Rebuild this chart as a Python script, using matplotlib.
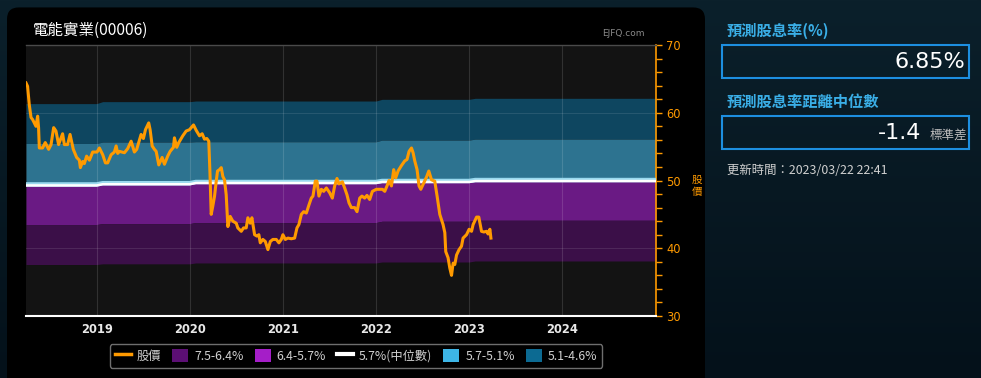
import matplotlib
matplotlib.use("Agg")
import matplotlib.pyplot as plt
import numpy as np
from matplotlib.lines import Line2D
from matplotlib.patches import Patch, FancyBboxPatch, Rectangle
from matplotlib import transforms
from matplotlib.colors import LinearSegmentedColormap

plt.rcParams['font.family'] = ['Noto Sans CJK TC', 'DejaVu Sans']

# ---------------- data ----------------
title = "電能實業(00006)"
year_ticks = [2019, 2020, 2021, 2022, 2023, 2024]
year_labels = ["2019", "2020", "2021", "2022", "2023", "2024"]
x_range = [2018.241, 2025.007]
y_ticks = [30, 40, 50, 60, 70]

# price (decimal year, HKD)
price_t = [2018.241, 2018.258, 2018.276, 2018.295, 2018.312, 2018.330, 2018.348, 2018.366, 2018.376, 2018.384,
           2018.419, 2018.448, 2018.484, 2018.510, 2018.538, 2018.563, 2018.591, 2018.634, 2018.653, 2018.688,
           2018.714, 2018.749, 2018.785, 2018.814, 2018.825, 2018.849, 2018.868, 2018.892, 2018.922, 2018.957,
           2019.004, 2019.029, 2019.065, 2019.094, 2019.118, 2019.155, 2019.190, 2019.209, 2019.226, 2019.244,
           2019.298, 2019.333, 2019.370, 2019.405, 2019.430, 2019.477, 2019.502, 2019.524, 2019.559, 2019.574,
           2019.596, 2019.620, 2019.639, 2019.667, 2019.703, 2019.728, 2019.763, 2019.789, 2019.825, 2019.835,
           2019.860, 2019.882, 2019.925, 2019.961, 2019.997, 2020.040, 2020.069, 2020.104, 2020.133, 2020.158,
           2020.183, 2020.204, 2020.217, 2020.230, 2020.247, 2020.266, 2020.284, 2020.298, 2020.319, 2020.338,
           2020.355, 2020.373, 2020.391, 2020.409, 2020.434, 2020.462, 2020.499, 2020.516, 2020.553, 2020.577,
           2020.606, 2020.624, 2020.649, 2020.667, 2020.696, 2020.720, 2020.742, 2020.757, 2020.785, 2020.811,
           2020.839, 2020.865, 2020.892, 2020.929, 2020.957, 2020.983, 2021.000, 2021.026, 2021.054, 2021.090,
           2021.126, 2021.151, 2021.172, 2021.198, 2021.223, 2021.252, 2021.280, 2021.305, 2021.323, 2021.348,
           2021.366, 2021.387, 2021.413, 2021.438, 2021.467, 2021.502, 2021.531, 2021.556, 2021.581, 2021.602,
           2021.639, 2021.663, 2021.688, 2021.710, 2021.735, 2021.771, 2021.796, 2021.825, 2021.849, 2021.878,
           2021.903, 2021.932, 2021.961, 2022.004, 2022.069, 2022.094, 2022.118, 2022.140, 2022.166, 2022.190,
           2022.212, 2022.237, 2022.273, 2022.309, 2022.333, 2022.355, 2022.381, 2022.398, 2022.416, 2022.441,
           2022.462, 2022.481, 2022.505, 2022.542, 2022.567, 2022.596, 2022.631, 2022.656, 2022.685, 2022.720,
           2022.739, 2022.749, 2022.774, 2022.792, 2022.811, 2022.828, 2022.846, 2022.865, 2022.892, 2022.918,
           2022.935, 2022.972, 2023.000, 2023.026, 2023.043, 2023.080, 2023.104, 2023.133, 2023.158, 2023.187,
           2023.204, 2023.223, 2023.234]
price_v = [64.4, 63.9, 61.2, 59.3, 59.0, 58.5, 58.0, 59.5, 57.8, 54.8,
           54.8, 55.6, 54.6, 55.3, 57.8, 57.3, 55.3, 56.9, 55.3, 55.3,
           56.8, 54.6, 53.4, 53.0, 51.9, 52.8, 52.5, 53.6, 53.0, 54.2,
           54.2, 54.8, 53.8, 52.6, 52.6, 53.8, 54.2, 55.1, 54.0, 54.3,
           54.1, 54.7, 55.8, 54.2, 54.6, 56.8, 56.2, 57.5, 58.5, 57.5,
           55.1, 54.6, 54.3, 52.3, 53.4, 52.4, 53.6, 54.3, 54.9, 56.3,
           54.9, 55.6, 56.6, 57.3, 57.5, 58.2, 57.4, 56.6, 56.9, 56.1,
           56.2, 55.8, 51.0, 45.0, 46.2, 47.7, 49.9, 51.4, 51.6, 51.9,
           50.6, 50.1, 47.9, 43.2, 44.7, 44.0, 43.7, 43.0, 42.5, 43.0,
           43.0, 44.5, 43.7, 44.5, 42.0, 41.8, 42.0, 40.8, 41.3, 41.0,
           39.8, 41.0, 41.3, 41.3, 40.8, 41.3, 42.0, 41.3, 41.5, 41.4,
           41.5, 43.0, 43.5, 45.0, 45.4, 45.2, 46.4, 47.4, 47.7, 49.9,
           49.9, 47.7, 48.7, 48.4, 48.9, 48.2, 47.4, 49.2, 50.3, 49.5,
           49.8, 48.9, 47.9, 46.7, 46.0, 46.0, 45.4, 47.4, 47.7, 47.4,
           47.8, 47.2, 48.4, 48.7, 48.7, 48.4, 49.2, 50.0, 49.2, 51.6,
           50.4, 51.4, 52.2, 52.9, 53.1, 54.3, 54.8, 54.1, 52.9, 51.6,
           49.2, 48.7, 49.4, 50.5, 51.4, 50.1, 49.9, 47.7, 45.0, 43.5,
           42.3, 39.5, 38.6, 37.1, 36.0, 37.8, 37.6, 39.0, 39.8, 40.3,
           41.5, 42.0, 42.8, 42.5, 43.5, 44.6, 44.6, 42.5, 42.4, 42.5,
           42.1, 42.8, 41.5]

# yield bands: price level of each band boundary, per dividend period
seg_start = [2018.241, 2019.0, 2020.0, 2022.0, 2023.0]
lvl_46 = [61.35, 61.64, 61.73, 61.98, 62.13]
lvl_51 = [55.47, 55.67, 55.72, 55.96, 56.11]
lvl_57 = [49.42, 49.60, 49.78, 49.93, 50.07]
lvl_64 = [43.50, 43.64, 43.79, 43.98, 44.13]
lvl_75 = [37.60, 37.70, 37.83, 37.97, 38.12]

legend_labels = ["股價", "7.5-6.4%", "6.4-5.7%", "5.7%(中位數)", "5.7-5.1%", "5.1-4.6%"]

panel_title1 = "預測股息率(%)"
panel_value1 = "6.85%"
panel_title2 = "預測股息率距離中位數"
panel_value2 = "-1.4"
panel_unit2 = "標準差"
update_text = "更新時間：2023/03/22 22:41"

# ---------------- figure ----------------
W, H = 981, 378
fig = plt.figure(figsize=(W / 100, H / 100), dpi=100)

def fx(x):
    return x / W

def fy(y):
    return 1 - y / H

# background gradient
bg = fig.add_axes([0, 0, 1, 1], zorder=-10)
grad = np.linspace(0, 1, 256).reshape(-1, 1)
cm = LinearSegmentedColormap.from_list("bg", ["#0b202b", "#04111a"])
bg.imshow(grad, aspect="auto", cmap=cm, extent=[0, 1, 0, 1], origin="upper")
bg.set_xlim(0, 1); bg.set_ylim(0, 1)
bg.axis("off")
# black chart panel
bg.add_patch(FancyBboxPatch((fx(7), 0), fx(705) - fx(7), fy(15) + 0.02,
                            boxstyle="round,pad=0,rounding_size=0.012",
                            transform=bg.transAxes, facecolor="black", edgecolor="none",
                            mutation_aspect=W / H))
bg.add_patch(Rectangle((fx(7), 0), fx(705) - fx(7), 0.3, transform=bg.transAxes,
                       facecolor="black", edgecolor="none"))

ax = fig.add_axes([fx(26), fy(316), fx(656) - fx(26), fy(45) - fy(316)])
ax.set_facecolor("#131313")

# build band series with short ramps at period changes
ramp = 0.065
bt = []
b46, b51, b57, b64, b75 = [], [], [], [], []
for i, s in enumerate(seg_start):
    t0 = s + (ramp if i > 0 else 0)
    t1 = seg_start[i + 1] if i + 1 < len(seg_start) else x_range[1]
    bt += [t0, t1]
    for arr, lv in ((b46, lvl_46), (b51, lvl_51), (b57, lvl_57), (b64, lvl_64), (b75, lvl_75)):
        arr += [lv[i], lv[i]]
bt = np.array(bt)

ax.fill_between(bt, b51, b46, color="#0e4660", lw=0, zorder=1)
ax.fill_between(bt, b57, b51, color="#2d7390", lw=0, zorder=1)
ax.fill_between(bt, b64, b57, color="#6a1a84", lw=0, zorder=1)
ax.fill_between(bt, b75, b64, color="#3b0f48", lw=0, zorder=1)

# grid
for t in year_ticks:
    ax.axvline(t, color="#ffffff", alpha=0.13, lw=0.8, zorder=2)
for v in [40, 60]:
    ax.axhline(v, color="#ffffff", alpha=0.10, lw=0.8, zorder=2)

# median line (light blue glow + white)
ax.plot(bt, b57, color="#9ad9ee", lw=3.2, zorder=3, solid_capstyle="butt")
off = transforms.offset_copy(ax.transData, fig=fig, x=0, y=-1.0, units="dots")
ax.plot(bt, b57, color="white", lw=1.8, zorder=3, transform=off, solid_capstyle="butt")

# price
ax.plot(price_t, price_v, color="#ff9a00", lw=2.2, zorder=5, solid_joinstyle="round")

ax.set_xlim(*x_range)
ax.set_ylim(30, 70)
ax.set_xticks(year_ticks)
ax.set_xticklabels(year_labels, color="#e8e8e8", fontsize=8.3, fontweight="bold",
                   family=["DejaVu Sans"])
ax.tick_params(axis="x", length=0, pad=5)

ax.yaxis.tick_right()
ax.set_yticks(y_ticks)
ax.set_yticks(np.arange(30, 71, 2), minor=True)
ax.set_yticklabels([str(v) for v in y_ticks], color="#ff9a00", fontsize=8.3,
                   family=["DejaVu Sans"])
ax.tick_params(axis="y", which="both", colors="#ff9a00", length=4.5, width=1, pad=3,
               labelcolor="#ff9a00")
ax.spines["left"].set_visible(False)
ax.spines["right"].set_color("#ff9a00")
ax.spines["right"].set_linewidth(1.2)
ax.spines["bottom"].set_color("white")
ax.spines["bottom"].set_linewidth(1.5)
ax.spines["top"].set_color("#4a4a4a")
ax.spines["top"].set_linewidth(1.0)

fig.text(fx(697), fy(186), "股\n價", color="#ff9a00", fontsize=7.5, ha="center", va="center",
         linespacing=1.25)

fig.text(fx(33), fy(30), title, color="white", fontsize=11.2, ha="left", va="center")
fig.text(fx(645), fy(33), "EJFQ.com", color="#8a8a8a", fontsize=6.5, ha="right", va="center",
         family=["DejaVu Sans"])

# legend
handles = [
    Line2D([0], [0], color="#ff9a00", lw=2.5),
    Patch(facecolor="#5c0f74", edgecolor="none"),
    Patch(facecolor="#a51ec8", edgecolor="none"),
    Line2D([0], [0], color="white", lw=3.0),
    Patch(facecolor="#3db5e6", edgecolor="none"),
    Patch(facecolor="#0c6a92", edgecolor="none"),
]
leg = fig.legend(handles, legend_labels, loc="center", bbox_to_anchor=(fx(356), fy(356)),
                 ncol=6, fontsize=8.8, frameon=True, handlelength=1.3, handleheight=1.3,
                 handletextpad=0.5, columnspacing=0.9, borderpad=0.4, labelcolor="#d0d0d0",
                 fancybox=True)
leg.get_frame().set_facecolor("black")
leg.get_frame().set_edgecolor("#8a8a8a")
leg.get_frame().set_linewidth(1.0)

# right panel
fig.text(fx(727), fy(31), panel_title1, color="#3aaee6", fontsize=11, fontweight="bold",
         ha="left", va="center")
fig.text(fx(727), fy(102), panel_title2, color="#3aaee6", fontsize=11, fontweight="bold",
         ha="left", va="center")
for y0, y1 in ((45, 78), (116, 149)):
    fig.patches.append(Rectangle((fx(722), fy(y1)), fx(969) - fx(722), fy(y0) - fy(y1),
                                 transform=fig.transFigure, facecolor="none",
                                 edgecolor="#1d8fe0", lw=1.5))
fig.text(fx(965), fy(62), panel_value1, color="white", fontsize=16, ha="right", va="center",
         family=["DejaVu Sans"])
fig.text(fx(921), fy(133), panel_value2, color="white", fontsize=16, ha="right", va="center",
         family=["DejaVu Sans"])
fig.text(fx(967), fy(135), panel_unit2, color="#bbbbbb", fontsize=9, ha="right", va="center")
fig.text(fx(727), fy(170), update_text, color="#d0d0d0", fontsize=8.9, ha="left", va="center")

fig.savefig("out.png", dpi=100, facecolor=fig.get_facecolor())
